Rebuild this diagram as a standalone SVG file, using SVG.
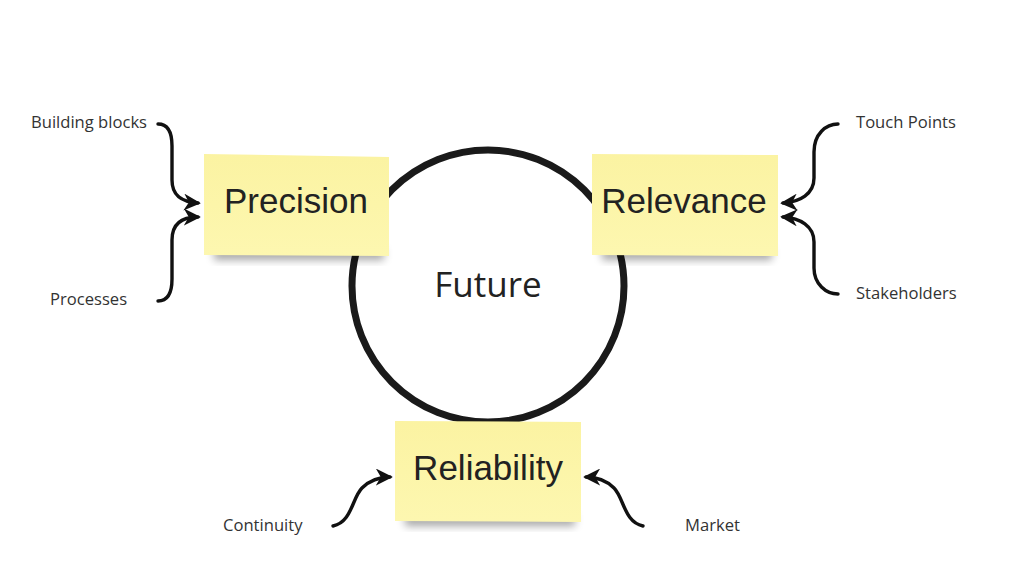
<svg xmlns="http://www.w3.org/2000/svg" width="1024" height="575" viewBox="0 0 1024 575">
<style>
.lbl{font-family:"Open Sans",sans-serif;font-size:16.6px;fill:#333333}
.big{font-family:"Liberation Sans",Arial,sans-serif;font-size:35px;fill:#222222;text-anchor:middle}
.conn{fill:none;stroke:#111111;stroke-width:3.4;stroke-linecap:round}
</style>
<defs>
<marker id="ah" viewBox="0 0 12 12" refX="10" refY="6" markerWidth="17" markerHeight="17" markerUnits="userSpaceOnUse" orient="auto">
<path d="M0,0 L12,6 L0,12 L3.5,6 Z" fill="#111111"/>
</marker>
<filter id="sh" x="-20%" y="-50%" width="140%" height="200%">
<feGaussianBlur stdDeviation="4"/>
</filter>
<linearGradient id="ng" x1="0" y1="0" x2="0" y2="1">
<stop offset="0" stop-color="#fbf3a2"/>
<stop offset="1" stop-color="#fdf7b0"/>
</linearGradient>
</defs>
<rect width="1024" height="575" fill="#ffffff"/>
<g id="future">
<circle cx="488" cy="286" r="136" fill="none" stroke="#1a1a1a" stroke-width="7"/>
<text x="488" y="297" font-family="Open Sans,sans-serif" font-size="35" fill="#222222" text-anchor="middle">Future</text>
</g>
<g id="precision">
<rect x="214" y="248" width="170" height="12" fill="#000" opacity="0.35" filter="url(#sh)"/>
<polygon points="204,154 389,157 389,256 204,255" fill="url(#ng)"/>
<text class="big" x="296" y="213">Precision</text>
</g>
<g id="relevance">
<rect x="602" y="248" width="170" height="12" fill="#000" opacity="0.35" filter="url(#sh)"/>
<polygon points="592,154 778,155 778,256 592,255" fill="url(#ng)"/>
<text class="big" x="684" y="213">Relevance</text>
</g>
<g id="reliability">
<rect x="405" y="514" width="170" height="12" fill="#000" opacity="0.35" filter="url(#sh)"/>
<polygon points="395,421 581,422 581,522 395,521" fill="url(#ng)"/>
<text class="big" x="488" y="480">Reliability</text>
</g>
<g id="labels">
<text class="lbl" x="31" y="128">Building blocks</text>
<text class="lbl" x="50" y="305">Processes</text>
<text class="lbl" x="856" y="128">Touch Points</text>
<text class="lbl" x="856" y="299">Stakeholders</text>
<text class="lbl" x="223" y="531">Continuity</text>
<text class="lbl" x="685" y="531">Market</text>
</g>
<g id="connectors">
<path class="conn" d="M158,124 C168,124 172,132 172,146 L172,180 C172,196 182,202 198,203" marker-end="url(#ah)"/>
<path class="conn" d="M158,301 C168,301 172,293 172,279 L172,240 C172,224 182,217 198,217" marker-end="url(#ah)"/>
<path class="conn" d="M838,124 C826,124 814,134 814,152 L814,178 C814,194 800,202 783,203" marker-end="url(#ah)"/>
<path class="conn" d="M838,294 C826,294 814,284 814,268 L814,242 C814,226 800,218 783,217" marker-end="url(#ah)"/>
<path class="conn" d="M333,526 C352,522 352,498 362,488 C370,480 380,477 390,477" marker-end="url(#ah)"/>
<path class="conn" d="M643,526 C624,522 624,498 614,488 C606,480 596,477 586,477" marker-end="url(#ah)"/>
</g>
</svg>
